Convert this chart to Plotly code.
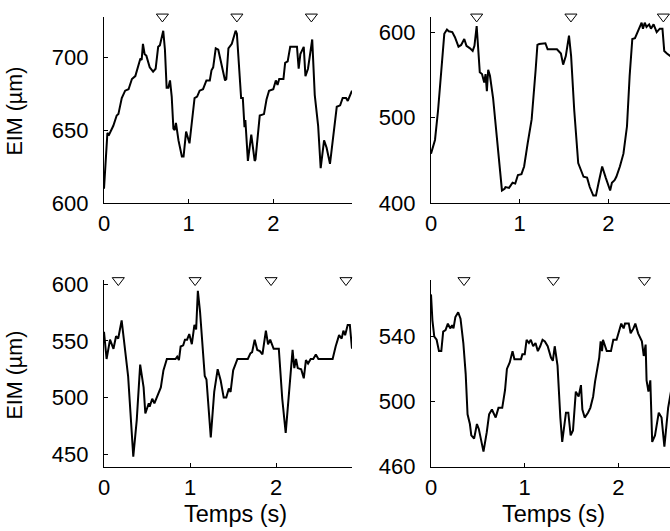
import plotly.graph_objects as go

# ---- data (time in s, EIM in µm) ----
t_a = [0.00,0.04,0.06,0.11,0.15,0.17,0.21,0.25,0.29,0.33,0.37,0.39,0.43,0.445,0.46,0.48,0.50,0.54,0.58,0.61,
       0.64,0.66,0.70,0.72,0.74,0.76,0.78,0.80,0.82,0.835,0.85,0.88,0.92,0.94,0.97,1.01,1.04,1.07,1.10,1.13,
       1.17,1.21,1.25,1.27,1.29,1.32,1.35,1.37,1.41,1.43,1.445,1.47,1.51,1.555,1.57,1.62,1.64,1.66,1.67,1.70,
       1.74,1.78,1.79,1.84,1.89,1.92,1.95,2.00,2.03,2.05,2.07,2.12,2.14,2.17,2.20,2.28,2.30,2.32,2.36,2.38,
       2.41,2.46,2.49,2.53,2.56,2.60,2.63,2.67,2.75,2.79,2.82,2.86,2.88,2.93]
v_a = [610,648,647,653,660,661,672,677,678,685,687,691,699,698,709,702,701,693,690,692,
       707,708,718,705,679,679,684,673,651,650,655,643,632,632,649,641,655,672,673,677,
       678,684,684,691,693,706,705,700,690,684,685,706,709,718,716,672,672,652,657,629,
       647,629,630,660,661,671,677,678,684,681,685,685,696,697,707,707,692,702,707,687,
       692,712,674,653,624,643,638,627,666,667,672,672,670,677]

t_b = [0.00,0.045,0.08,0.12,0.15,0.18,0.20,0.24,0.27,0.31,0.34,0.375,0.40,0.44,0.47,0.49,0.515,0.53,0.55,0.575,
       0.60,0.615,0.63,0.645,0.665,0.70,0.74,0.78,0.80,0.83,0.84,0.88,0.92,0.95,0.98,1.02,1.05,1.09,1.135,1.18,
       1.20,1.22,1.29,1.315,1.42,1.465,1.49,1.52,1.556,1.58,1.615,1.66,1.69,1.72,1.76,1.79,1.83,1.86,1.89,1.93,
       1.97,2.02,2.04,2.07,2.09,2.13,2.17,2.21,2.24,2.27,2.30,2.33,2.375,2.39,2.41,2.43,2.46,2.48,2.51,2.545,
       2.58,2.61,2.63,2.66,2.70]
v_b = [458,474,509,562,598,603,601,600,594,583,585,592,584,581,578,584,607,584,553,551,
       541,551,531,556,549,523,478,435,415,417,419,418,424,423,433,434,443,470,498,556,
       585,586,587,580,580,575,562,572,596,572,509,447,440,431,430,419,409,409,424,443,
       430,415,424,427,431,443,458,490,549,592,593,600,611,604,611,606,609,604,609,600,
       604,604,578,575,572]

t_c = [0.00,0.03,0.07,0.11,0.14,0.165,0.205,0.245,0.28,0.34,0.38,0.42,0.46,0.48,0.52,0.53,0.56,0.585,0.62,0.66,
       0.69,0.73,0.83,0.85,0.87,0.89,0.92,0.94,0.965,0.99,1.02,1.05,1.07,1.09,1.115,1.17,1.19,1.24,1.28,1.32,
       1.355,1.39,1.42,1.45,1.47,1.50,1.55,1.67,1.70,1.72,1.75,1.78,1.81,1.84,1.88,1.905,1.93,1.97,2.03,2.07,
       2.11,2.14,2.19,2.21,2.23,2.25,2.29,2.32,2.345,2.37,2.40,2.43,2.46,2.49,2.655,2.69,2.73,2.76,2.78,2.80,
       2.83,2.855,2.88]
v_c = [558,534,551,543,554,552,568,542,519,448,480,529,509,486,495,492,499,495,501,509,
       524,534,534,536,533,545,546,551,551,556,547,564,560,594,576,519,516,465,505,525,
       515,500,500,508,505,524,534,534,539,540,551,542,541,538,559,547,551,543,543,499,
       469,499,542,526,534,526,525,517,533,530,534,534,538,534,534,545,555,552,559,555,
       564,564,543]

t_d = [0.00,0.015,0.035,0.06,0.085,0.11,0.13,0.155,0.18,0.205,0.225,0.24,0.26,0.29,0.315,0.345,0.37,0.39,0.415,0.43,
       0.46,0.49,0.51,0.56,0.595,0.62,0.65,0.69,0.72,0.76,0.79,0.81,0.84,0.87,0.89,0.96,0.975,1.00,1.02,1.045,
       1.065,1.09,1.115,1.14,1.165,1.19,1.215,1.245,1.28,1.30,1.32,1.35,1.38,1.40,1.44,1.465,1.49,1.515,1.545,1.575,
       1.60,1.615,1.64,1.675,1.70,1.73,1.75,1.78,1.795,1.81,1.825,1.835,1.875,1.92,1.945,1.98,2.005,2.03,2.055,2.07,
       2.11,2.13,2.16,2.18,2.21,2.25,2.27,2.29,2.30,2.32,2.34,2.36,2.39,2.43,2.46,2.49,2.53,2.56]
v_d = [566,550,540,538,531,531,543,544,548,545,547,545,552,555,551,536,517,492,486,479,
       477,486,483,469,481,492,495,490,496,496,507,520,524,531,526,526,529,529,538,536,
       538,534,536,531,534,538,537,534,527,525,534,522,490,475,493,493,479,482,506,503,
       510,495,490,493,496,503,512,522,527,537,531,538,531,531,538,538,543,548,545,548,
       548,542,545,548,542,537,528,535,513,506,513,475,479,493,490,472,496,506]

marks_a = [0.69, 1.57, 2.45]
marks_b = [0.515, 1.578, 2.62]
marks_c = [0.166, 1.058, 1.94, 2.81]
marks_d = [0.352, 1.305, 2.277]

ticks_a = [600, 650, 700]
ticks_b = [400, 500, 600]
ticks_c = [450, 500, 550, 600]
ticks_d = [460, 500, 540]
xticks = [0, 1, 2]

yr_a = [600, 727.6]
yr_b = [400, 618]
yr_c = [438.9, 603.3]
yr_d = [459.5, 574.7]
xr_a = [0, 2.93]
xr_b = [0, 2.695]
xr_c = [0, 2.88]
xr_d = [0, 2.55]

W, H = 670, 531
FONT = "Liberation Sans, Arial, Helvetica, sans-serif"

fig = go.Figure()

panels = [
    ("", t_a, v_a, marks_a, yr_a),
    ("2", t_b, v_b, marks_b, yr_b),
    ("3", t_c, v_c, marks_c, yr_c),
    ("4", t_d, v_d, marks_d, yr_d),
]
for suf, t, v, m, yr in panels:
    fig.add_trace(go.Scatter(x=t, y=v, mode="lines", line=dict(color="black", width=2),
                             xaxis="x" + suf, yaxis="y" + suf, showlegend=False, hoverinfo="skip"))
    fig.add_trace(go.Scatter(x=m, y=[yr[1]] * len(m), mode="markers", cliponaxis=False,
                             marker=dict(symbol="triangle-down-open", size=10.5, color="black",
                                         line=dict(width=1, color="black")),
                             xaxis="x" + suf, yaxis="y" + suf, showlegend=False, hoverinfo="skip"))

xl = [104 / W, 352 / W]
xrgt = [431 / W, 1.0]
ytop = [(H - 203.3) / H, (H - 16.7) / H]
ybot = [(H - 467) / H, (H - 280.3) / H]

TICKFONT = dict(family=FONT, size=22, color="black")
common = dict(showline=True, linecolor="black", linewidth=1.3, showgrid=False, zeroline=False,
              ticks="inside", ticklen=4, tickwidth=1, tickcolor="black", automargin=False,
              tickfont=TICKFONT)

def xax(dom, rng, anchor):
    return dict(common, domain=dom, range=rng, anchor=anchor, tickvals=xticks,
                ticktext=[str(x) for x in xticks], ticklabelstandoff=0)

def yax(dom, rng, anchor, tv):
    return dict(common, domain=dom, range=rng, anchor=anchor, tickvals=tv,
                ticktext=[str(x) for x in tv], ticklabelstandoff=10)

ylab_font = dict(family=FONT, size=21.5, color="black")
xlab_font = dict(family=FONT, size=23.5, color="black")

fig.update_layout(
    width=W, height=H, margin=dict(l=0, r=0, t=0, b=0, autoexpand=False),
    paper_bgcolor="white", plot_bgcolor="white", showlegend=False,
    font=dict(family=FONT, size=22, color="black"),
    xaxis=xax(xl, xr_a, "y"), yaxis=yax(ytop, yr_a, "x", ticks_a),
    xaxis2=xax(xrgt, xr_b, "y2"), yaxis2=yax(ytop, yr_b, "x2", ticks_b),
    xaxis3=xax(xl, xr_c, "y3"), yaxis3=yax(ybot, yr_c, "x3", ticks_c),
    xaxis4=xax(xrgt, xr_d, "y4"), yaxis4=yax(ybot, yr_d, "x4", ticks_d),
    annotations=[
        dict(text="EIM (µm)", x=14.5 / W, y=(H - 111) / H, xref="paper", yref="paper",
             textangle=-90, showarrow=False, xanchor="center", yanchor="middle", font=ylab_font),
        dict(text="EIM (µm)", x=14.5 / W, y=(H - 375) / H, xref="paper", yref="paper",
             textangle=-90, showarrow=False, xanchor="center", yanchor="middle", font=ylab_font),
        dict(text="Temps (s)", x=235 / W, y=(H - 514) / H, xref="paper", yref="paper",
             showarrow=False, xanchor="center", yanchor="middle", font=xlab_font),
        dict(text="Temps (s)", x=553 / W, y=(H - 514) / H, xref="paper", yref="paper",
             showarrow=False, xanchor="center", yanchor="middle", font=xlab_font),
    ],
)

fig.write_html("out.html", config={"displayModeBar": False},
               post_script="document.body.style.margin='0';document.body.style.overflow='hidden';")
